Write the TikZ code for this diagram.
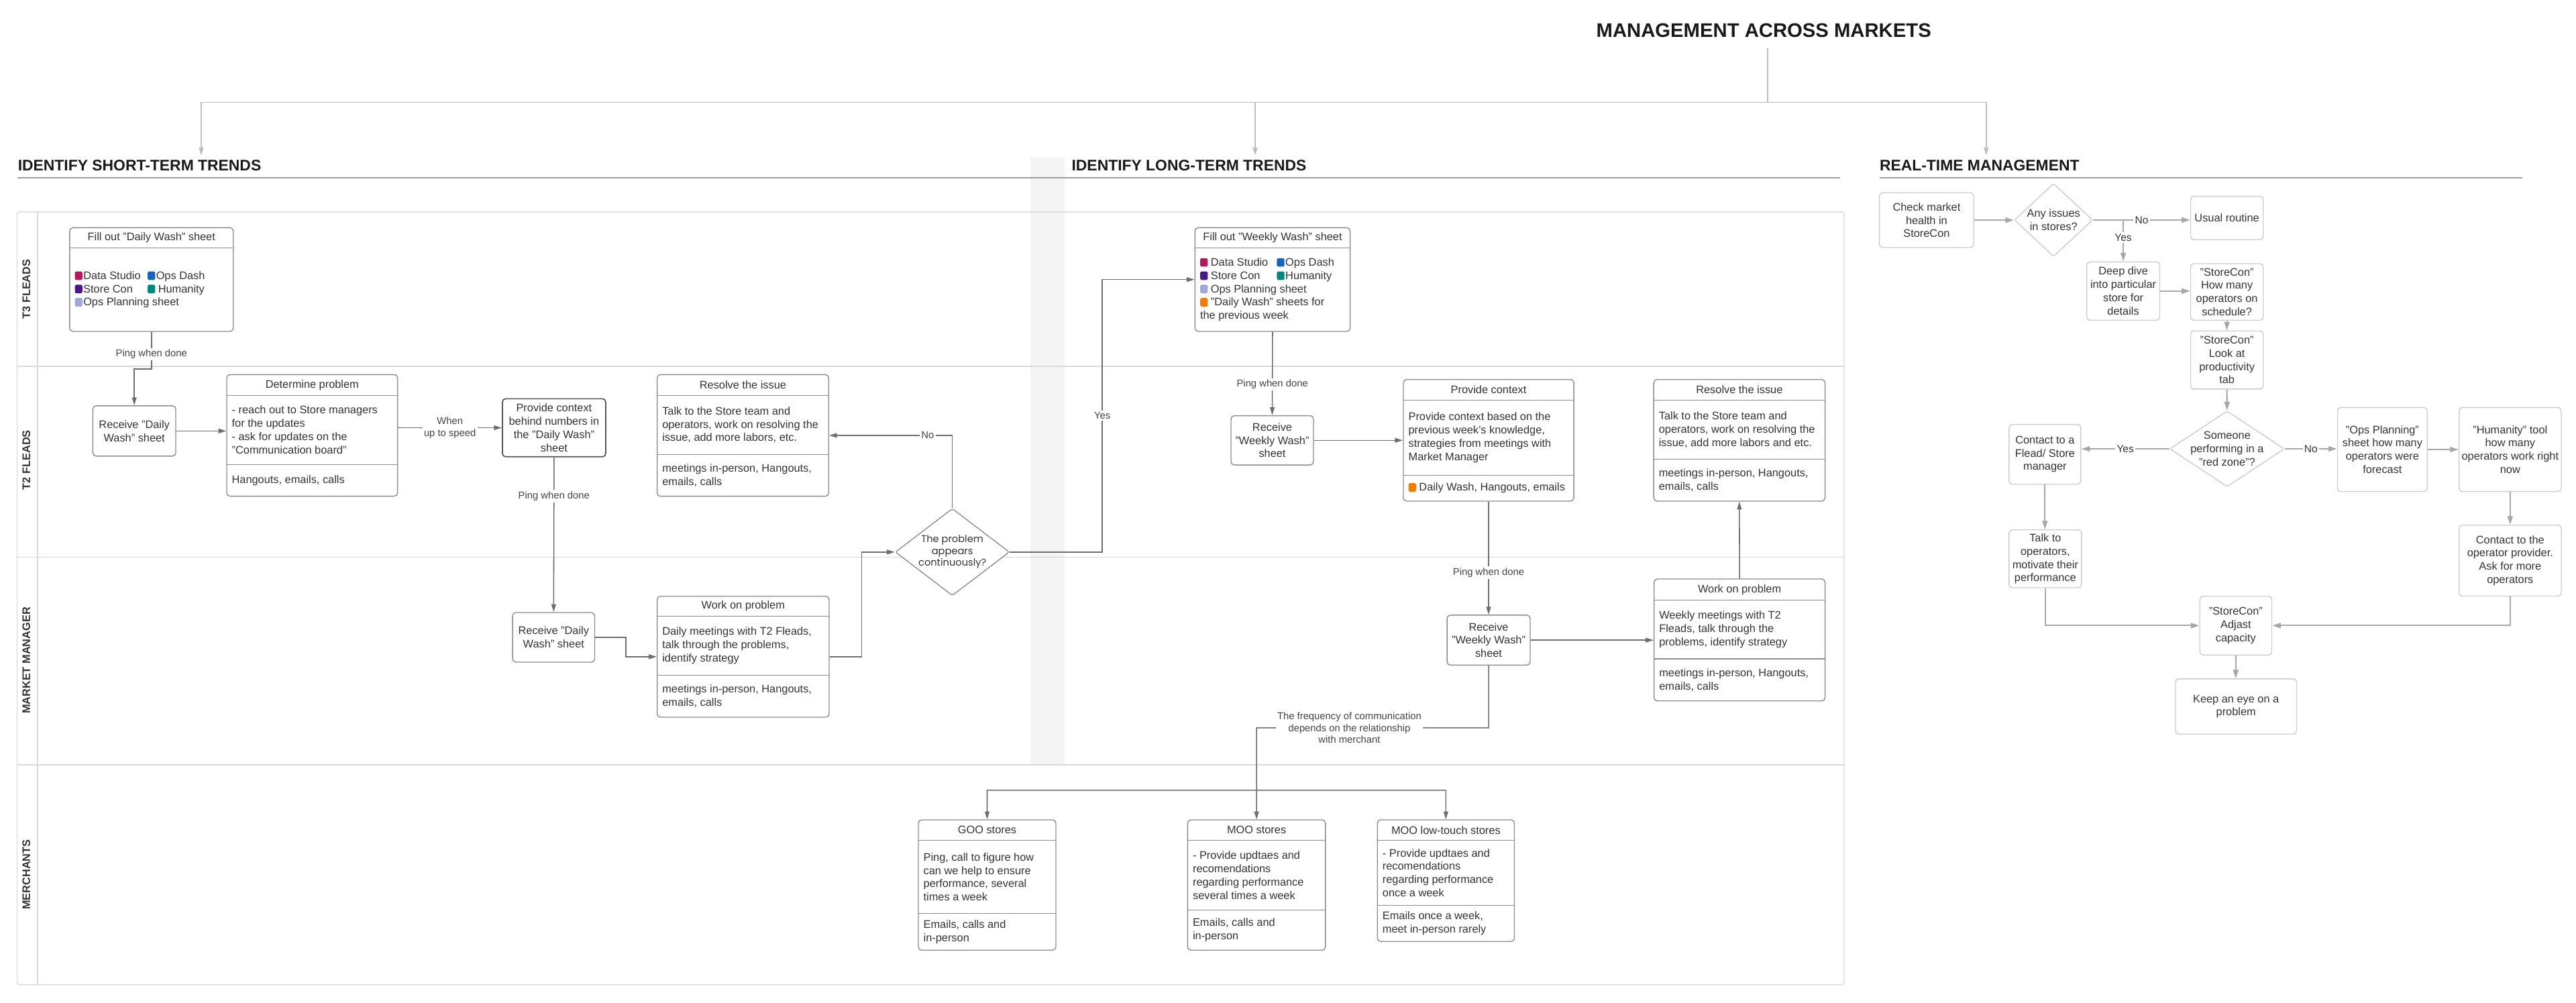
\documentclass[tikz,border=0pt]{standalone}
\usepackage{fontspec}
\setmainfont{Liberation Sans}
\newfontfamily\geofont{Poppins}
\usetikzlibrary{arrows.meta,shapes.geometric}

\definecolor{txt}{HTML}{333333}
\definecolor{lbltxt}{HTML}{444444}
\definecolor{boxgray}{HTML}{8C8C8C}
\definecolor{ctxgray}{HTML}{555555}
\definecolor{lgray}{HTML}{6E6E6E}
\definecolor{rgray}{HTML}{A8A8A8}
\definecolor{rbgray}{HTML}{CCCCCC}
\definecolor{lanegray}{HTML}{D9D9D9}
\definecolor{ulgray}{HTML}{9E9E9E}
\definecolor{topgray}{HTML}{BDBDBD}
\definecolor{bandc}{HTML}{F4F4F4}
\definecolor{dsc}{HTML}{B8175E}
\definecolor{odc}{HTML}{1565C0}
\definecolor{scc}{HTML}{4A148C}
\definecolor{huc}{HTML}{00897B}
\definecolor{opc}{HTML}{9FA8DA}
\definecolor{orc}{HTML}{F57C00}

\newcommand\bxfont{\fontsize{9.5}{11.5}\selectfont}
\newcommand\lbfont{\fontsize{8.6}{10.3}\selectfont}
\newcommand\legsq[1]{\tikz[baseline=0pt]\fill[#1,rounded corners=0.5mm] (0,-0.2mm) rectangle (2.3mm,2.4mm);}
% framed box: name, x1, y1, x2, y2, text
\newcommand\pbx[7][pbox]{%
  \pgfmathsetmacro\bxcx{(#3+#5)/2}\pgfmathsetmacro\bxcy{(#4+#6)/2}%
  \pgfmathsetmacro\bxw{(#5-#3)/2}\pgfmathsetmacro\bxh{(#6-#4)/2}%
  \node[#1, minimum width=\bxw mm, minimum height=\bxh mm] (#2) at (\bxcx,\bxcy) {#7};}
% table box: name, x1, y1, x2, y2, first divider, second divider
\newcommand\tabbox[7]{%
  \pgfmathsetmacro\bxcx{(#2+#4)/2}\pgfmathsetmacro\bxcy{(#3+#5)/2}%
  \pgfmathsetmacro\bxw{(#4-#2)/2}\pgfmathsetmacro\bxh{(#5-#3)/2}%
  \node[tbl, minimum width=\bxw mm, minimum height=\bxh mm] (#1) at (\bxcx,\bxcy) {};
  \draw[tbline] (#2,#6) -- (#4,#6);
  \def\bxa{#5}\def\bxb{#7}\ifx\bxa\bxb\else\draw[tbline] (#2,#7) -- (#4,#7);\fi
  \coordinate (#1-h) at (\bxcx,{(#3+#6)/2});
  \coordinate (#1-m) at (#2+3,{(#6+#7)/2});
  \coordinate (#1-l) at (#2+3,{(#7+#5)/2});}

\tikzset{
  mtitle/.style={inner sep=0pt, outer ysep=3.3mm, text=black!90, font=\bfseries\fontsize{17}{20}\selectfont},
  head/.style={anchor=west, inner sep=0pt, text=black!90, font=\bfseries\fontsize{13.3}{16}\selectfont},
  uline/.style={draw=ulgray, line width=1.1pt},
  tline/.style={draw=topgray, line width=0.8pt},
  tarr/.style={tline, -{Triangle[length=2.4mm,width=1.4mm]}},
  lane/.style={draw=lanegray, line width=0.8pt},
  lanelbl/.style={rotate=90, inner sep=0pt, text=txt, font=\bfseries\fontsize{9.5}{11}\selectfont},
  tbl/.style={draw=boxgray, fill=white, rounded corners=1mm, line width=0.8pt, inner sep=0pt},
  tbline/.style={draw=boxgray, line width=0.8pt},
  pbox/.style={tbl, align=center, text=txt, font=\bxfont},
  dbox/.style={pbox, draw=ctxgray, line width=1pt},
  htxt/.style={inner sep=0pt, text=txt, font=\bxfont},
  btxt/.style={anchor=west, align=left, inner sep=0pt, text=txt, font=\bxfont},
  rbox/.style={draw=rbgray, fill=white, rounded corners=1mm, line width=0.8pt, inner sep=0pt, align=center, text=txt, font=\bxfont},
  diam/.style={diamond, draw=boxgray, fill=white, line width=0.8pt, inner sep=0pt, rounded corners=0.6mm},
  rdiam/.style={diamond, draw=rbgray, fill=white, line width=0.8pt, inner sep=0pt, rounded corners=0.6mm},
  dtxt/.style={align=center, inner sep=0pt, text=txt, font=\geofont\fontsize{8.5}{10.2}\selectfont},
  rdtxt/.style={align=center, inner sep=0pt, text=txt, font=\bxfont},
  arr/.style={draw=lgray, line width=0.9pt, -{Triangle[length=2.4mm,width=1.4mm]}},
  rarr/.style={draw=rgray, line width=1.2pt, -{Triangle[length=2.6mm,width=1.6mm]}},
  lbl/.style={fill=white, inner sep=0.5mm, align=center, text=lbltxt, font=\lbfont},
  rlbl/.style={fill=white, inner sep=0.5mm, text=txt, font=\fontsize{9}{10.8}\selectfont},
}

\begin{document}
\begin{tikzpicture}[x=0.5mm,y=-0.5mm]
    \useasboundingbox (0,0) rectangle (1568,610.4);
    \fill[bandc] (627,95.5) rectangle (648,465.5); % grey band behind long-term column

    % title and its three branches
    \node[mtitle] (mam) at (1073.6,18.4) {MANAGEMENT ACROSS MARKETS};
    \coordinate (hub) at (1076,62.3);
    \foreach \n/\x in {s/122.5,l/764,r/1209}
        \coordinate (top\n) at (\x,94.6);
    \draw[tline] (mam.south -| hub) -- (hub);
    \foreach \n in {s,l,r}
        \draw[tarr] (hub) -| (top\n);
    \node[head] (hshort) at (10.8,100.7) {IDENTIFY SHORT-TERM TRENDS};
    \node[head] (hlong) at (652.2,100.7) {IDENTIFY LONG-TERM TRENDS};
    \node[head] (hreal) at (1144,100.7) {REAL-TIME MANAGEMENT};
    \draw[uline] (10.8,108.3) -- (1120,108.3);
    \draw[uline] (1144,108.3) -- (1535.5,108.3);

    % swimlanes
    \draw[lane, rounded corners=0.8mm] (10.4,129) rectangle (1122.5,599.3);
    \draw[lane] (22.8,129) -- (22.8,599.3);
    \foreach \y in {223,339,465.5}
        \draw[lane] (10.4,\y) -- (1122.5,\y);
    \foreach \n/\y/\lab in {t3/176/T3 FLEADS, t2/280/T2 FLEADS, mm/402/MARKET MANAGER, me/532.3/MERCHANTS}
        \node[lanelbl] (lane\n) at (16,\y) {\lab};

    % sheets to fill out
    \tabbox{fillday}{42.4}{138.6}{142}{201.7}{151}{201.7}
    \node[htxt] (fillday-t) at (fillday-h) {Fill out "Daily Wash" sheet};
    \node[btxt] (fillday-b) at (fillday-m) {\makebox[22.15mm][l]{\legsq{dsc}\hspace{0.3mm}Data Studio}\legsq{odc}\hspace{0.3mm}Ops Dash\\
        \makebox[22.15mm][l]{\legsq{scc}\hspace{0.3mm}Store Con}\legsq{huc}~Humanity\\
        \legsq{opc}\hspace{0.3mm}Ops Planning sheet};
    \tabbox{fillweek}{727.4}{138.6}{821.8}{201.7}{151}{201.7}
    \node[htxt] (fillweek-t) at (fillweek-h) {Fill out "Weekly Wash" sheet};
    \node[btxt] (fillweek-b) at (fillweek-m) {\makebox[23.35mm][l]{\legsq{dsc}~Data Studio}\legsq{odc}\hspace{0.3mm}Ops Dash\\
        \makebox[23.35mm][l]{\legsq{scc}~Store Con}\legsq{huc}\hspace{0.3mm}Humanity\\
        \legsq{opc}~Ops Planning sheet\\
        \legsq{orc}~"Daily Wash" sheets for\\
        the previous week};

    % three-part boxes
    \tabbox{detprob}{138}{228}{242}{302}{240.6}{282.7}
    \node[htxt] (detprob-t) at (detprob-h) {Determine problem};
    \node[btxt] (detprob-b) at (detprob-m) {- reach out to Store managers\\for the updates\\- ask for updates on the\\"Communication board"};
    \node[btxt] (detprob-f) at (detprob-l) {Hangouts, emails, calls};
    \tabbox{resday}{400}{228}{504.4}{302}{240.6}{276.6}
    \node[htxt] (resday-t) at (resday-h) {Resolve the issue};
    \node[btxt] (resday-b) at (resday-m) {Talk to the Store team and\\operators, work on resolving the\\issue, add more labors, etc.};
    \node[btxt] (resday-f) at (resday-l) {meetings in-person, Hangouts,\\emails, calls};
    \tabbox{workday}{400}{362.9}{504.7}{436.5}{375}{411}
    \node[htxt] (workday-t) at (workday-h) {Work on problem};
    \node[btxt] (workday-b) at (workday-m) {Daily meetings with T2 Fleads,\\talk through the problems,\\identify strategy};
    \node[btxt] (workday-f) at (workday-l) {meetings in-person, Hangouts,\\emails, calls};
    \tabbox{ctxweek}{854.2}{231}{958}{305}{243.5}{289.2}
    \node[htxt] (ctxweek-t) at (ctxweek-h) {Provide context};
    \node[btxt] (ctxweek-b) at (ctxweek-m) {Provide context based on the\\previous week's knowledge,\\strategies from meetings with\\Market Manager};
    \node[btxt] (ctxweek-f) at (ctxweek-l) {\legsq{orc}~Daily Wash, Hangouts, emails};
    \tabbox{resweek}{1006.6}{231}{1110.9}{305}{243.5}{279.5}
    \node[htxt] (resweek-t) at (resweek-h) {Resolve the issue};
    \node[btxt] (resweek-b) at (resweek-m) {Talk to the Store team and\\operators, work on resolving the\\issue, add more labors and etc.};
    \node[btxt] (resweek-f) at (resweek-l) {meetings in-person, Hangouts,\\emails, calls};
    \tabbox{workweek}{1006.8}{352.4}{1110.9}{426.6}{365.3}{401}
    \node[htxt] (workweek-t) at (workweek-h) {Work on problem};
    \node[btxt] (workweek-b) at (workweek-m) {Weekly meetings with T2\\Fleads, talk through the\\problems, identify strategy};
    \node[btxt] (workweek-f) at (workweek-l) {meetings in-person, Hangouts,\\emails, calls};
    \tabbox{goo}{559}{499}{642.7}{578.3}{511.5}{556}
    \node[htxt] (goo-t) at (goo-h) {GOO stores};
    \node[btxt] (goo-b) at (goo-m) {Ping, call to figure how\\can we help to ensure\\performance, several\\times a week};
    \node[btxt] (goo-f) at (goo-l) {Emails, calls and\\in-person};
    \tabbox{moo}{722.9}{499}{806.8}{578.3}{511.5}{554}
    \node[htxt] (moo-t) at (moo-h) {MOO stores};
    \node[btxt] (moo-b) at (moo-m) {- Provide updtaes and\\recomendations\\regarding performance\\several times a week};
    \node[btxt] (moo-f) at (moo-l) {Emails, calls and\\in-person};
    \tabbox{moolow}{838.4}{499}{921.8}{573}{511.5}{551}
    \node[htxt] (moolow-t) at (moolow-h) {MOO low-touch stores};
    \node[btxt] (moolow-b) at (moolow-m) {- Provide updtaes and\\recomendations\\regarding performance\\once a week};
    \node[btxt] (moolow-f) at (moolow-l) {Emails once a week,\\meet in-person rarely};

    % plain process boxes
    \pbx{recvday}{56.5}{247}{107}{277.6}{Receive "Daily\\Wash" sheet}
    \pbx{recvdaymm}{312}{372.8}{362}{403}{Receive "Daily\\Wash" sheet}
    \pbx{recvweek}{749.3}{253}{799.5}{283}{Receive\\"Weekly Wash"\\sheet}
    \pbx{recvweekmm}{880.8}{374.4}{931.4}{404.8}{Receive\\"Weekly Wash"\\sheet}
    \pbx[dbox]{ctxday}{305.8}{242.7}{368.7}{278}{Provide context\\behind numbers in\\the "Daily Wash"\\sheet}
    \node[diam, minimum width=34.75mm, minimum height=26.5mm, label={[dtxt]center:{The problem\\appears\\continuously?}}] (contq) at (579.7,336) {};

    % short-term flow
    \draw[arr] (fillday.south) -- node[lbl,pos=0.6]{Ping when done} ++(0,22.7) -| (recvday.north);
    \draw[arr] (recvday.east) -- (recvday.east -| detprob.west);
    \draw[arr] (detprob.east |- ctxday.west) -- node[lbl]{When\\up to speed} (ctxday.west);
    \draw[arr] (ctxday.south) -- node[lbl,pos=0.25]{Ping when done} (recvdaymm.north);
    \draw[arr] (recvdaymm.east) -- ++(18.8,0) |- (workday.west);
    \draw[arr] (workday.east) -- ++(19.5,0) |- (contq.west);
    \draw[arr] (contq.north) |- node[lbl,pos=0.6]{No} (resday.east);
    \draw[arr] (contq.east) -- ++(56.25,0) |- node[lbl,pos=0.25]{Yes} (fillweek.west);

    % long-term flow
    \draw[arr] (fillweek.south) -- node[lbl,pos=0.63]{Ping when done} (recvweek.north);
    \draw[arr] (recvweek.east) -- (recvweek.east -| ctxweek.west);
    \draw[arr] (ctxweek.south) -- node[lbl,pos=0.63]{Ping when done} (recvweekmm.north);
    \draw[arr] (recvweekmm.east) -- (recvweekmm.east -| workweek.west);
    \draw[arr] (workweek.north) -- (resweek.south);
    \coordinate (freq) at (764.85,443);
    \coordinate (brl) at (600.85,481);
    \coordinate (brr) at (880.1,481);
    \draw[arr] (recvweekmm.south) |- node[lbl,pos=0.8]{The frequency of communication\\depends on the relationship\\with merchant} (freq) -- (moo.north);
    \draw[arr] (brr) -- (brl) -- (goo.north); % merchants branch
    \draw[arr] (brr) -- (moolow.north);

    % real-time management
    \pbx[rbox]{chk}{1144}{117.3}{1201.4}{150.7}{Check market\\health in\\StoreCon}
    \pbx[rbox]{usual}{1333.4}{119.5}{1377.6}{145.9}{Usual routine}
    \pbx[rbox]{deep}{1270.2}{159.4}{1314.6}{194.9}{Deep dive\\into particular\\store for\\details}
    \pbx[rbox]{howmany}{1333.4}{160.5}{1377.6}{194.9}{"StoreCon"\\How many\\operators on\\schedule?}
    \pbx[rbox]{lookat}{1333.4}{201.4}{1377.6}{236.8}{"StoreCon"\\Look at\\productivity\\tab}
    \pbx[rbox]{contact}{1222.9}{258.3}{1266.6}{294.7}{Contact to a\\Flead/ Store\\manager}
    \pbx[rbox]{opsplan}{1422.8}{248}{1477.5}{299.2}{"Ops Planning"\\sheet how many\\operators were\\forecast}
    \pbx[rbox]{human}{1496.8}{248}{1559}{299.2}{"Humanity" tool\\how many\\operators work right\\now}
    \pbx[rbox]{provider}{1496.8}{319.6}{1559}{362.8}{Contact to the\\operator provider.\\Ask for more\\operators}
    \pbx[rbox]{talk}{1222.9}{322.5}{1267}{357.7}{Talk to\\operators,\\motivate their\\performance}
    \pbx[rbox]{adjast}{1339}{362.8}{1382.8}{398.7}{"StoreCon"\\Adjast\\capacity}
    \pbx[rbox]{keep}{1324.2}{413.2}{1397.9}{446.8}{Keep an eye on a\\problem}
    \node[rdiam, minimum width=23.85mm, minimum height=22.25mm, label={[rdtxt]center:{Any issues\\in stores?}}] (anyq) at (1250,133.9) {};
    \node[rdiam, minimum width=34.9mm, minimum height=23.05mm, label={[rdtxt]center:{Someone\\performing in a\\"red zone"?}}] (redq) at (1355.6,273.2) {};

    \draw[rarr] (chk.east) -- (chk.east -| anyq.west);
    \draw[rarr] (anyq.east) -- node[rlbl]{No} (anyq.east -| usual.west);
    \draw[rarr] (anyq.east -| deep.north) -- node[rlbl,pos=0.42]{Yes} (deep.north);
    \draw[rarr] (deep.east) -- (deep.east -| howmany.west);
    \draw[rarr] (howmany.south) -- (lookat.north);
    \draw[rarr] (lookat.south) -- (redq.north);
    \draw[rarr] (redq.west) -- node[rlbl]{Yes} (redq.west -| contact.east);
    \draw[rarr] (redq.east) -- node[rlbl]{No} (redq.east -| opsplan.west);
    \draw[rarr] (opsplan.east) -- (opsplan.east -| human.west);
    \draw[rarr] (human.south) -- (provider.north);
    \draw[rarr] (contact.south) -- (contact.south |- talk.north);
    \draw[rarr] (talk.south) |- (adjast.west);
    \draw[rarr] (provider.south) |- (adjast.east);
    \draw[rarr] (adjast.south) -- (adjast.south |- keep.north);
\end{tikzpicture}
\end{document}
